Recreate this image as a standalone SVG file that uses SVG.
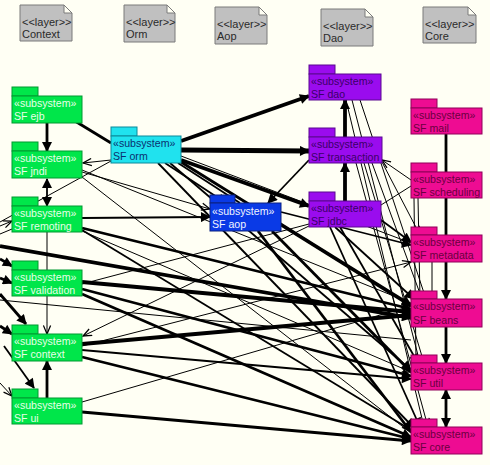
<svg xmlns="http://www.w3.org/2000/svg" width="490" height="465" viewBox="0 0 490 465">
<style>
text{font-family:"Liberation Sans",Arial,sans-serif;font-size:11px}
.pkg text{font-size:10.6px}
.note path{fill:#c0c0c0;stroke:#7a7a7a;stroke-width:1}
.note text{fill:#2a2a2a}
.pkg rect{stroke-width:1}
.g rect{fill:#00e64a;stroke:#009a30}.g text{fill:#e6ffe6}
.c rect{fill:#20e2ee;stroke:#0a8a9a}.c text{fill:#0a3070}
.b rect{fill:#0a3ae6;stroke:#0a2080}.b text{fill:#f0f4ff}
.p rect{fill:#9a0cee;stroke:#5a0890}.p text{fill:#3a0068}
.m rect{fill:#ee0c92;stroke:#900058}.m text{fill:#6a0040}
#edges line{stroke:#000;fill:none}
.w1{stroke-width:1}.w2{stroke-width:1.8}.w3{stroke-width:2.8}.w4{stroke-width:3.8}.w5{stroke-width:5}
.a{marker-end:url(#ah)}.v{marker-end:url(#av)}.d{marker-start:url(#ah);marker-end:url(#ah)}
</style>
<defs>
<marker id="ah" viewBox="0 0 10 10" refX="9" refY="5" markerWidth="11" markerHeight="10" markerUnits="userSpaceOnUse" orient="auto-start-reverse"><path d="M0,0 L10,5 L0,10 z" fill="#000"/></marker>
<marker id="av" viewBox="0 0 10 10" refX="9.5" refY="5" markerWidth="10" markerHeight="9" markerUnits="userSpaceOnUse" orient="auto"><path d="M0,1 L9.5,5 L0,9" fill="none" stroke="#000" stroke-width="1.4"/></marker>
</defs>
<rect width="490" height="465" fill="#fffff4"/>

<g id="layers">
<g id="layer-context" class="note"><path d="M20,5 H64 L72,13 V41 H20 Z M64,5 V13 H72"/><text x="22" y="26">&lt;&lt;layer&gt;&gt;</text><text x="22" y="38">Context</text></g>
<g id="layer-orm" class="note"><path d="M124,5 H167 L175,13 V42 H124 Z M167,5 V13 H175"/><text x="126" y="26">&lt;&lt;layer&gt;&gt;</text><text x="126" y="38">Orm</text></g>
<g id="layer-aop" class="note"><path d="M215,7 H259 L267,15 V44 H215 Z M259,7 V15 H267"/><text x="217" y="28">&lt;&lt;layer&gt;&gt;</text><text x="217" y="40">Aop</text></g>
<g id="layer-dao" class="note"><path d="M321,9 H365 L373,17 V46 H321 Z M365,9 V17 H373"/><text x="323" y="30">&lt;&lt;layer&gt;&gt;</text><text x="323" y="42">Dao</text></g>
<g id="layer-core" class="note"><path d="M423,7 H468 L476,15 V43 H423 Z M468,7 V15 H476"/><text x="425" y="28">&lt;&lt;layer&gt;&gt;</text><text x="425" y="40">Core</text></g>
</g>

<g id="edges">
<!-- offscreen sources at left -->
<line class="w1" x1="0" y1="222" x2="111" y2="161"/>
<line class="w1 v" x1="0" y1="226" x2="12" y2="221"/>
<line class="w1" x1="0" y1="234" x2="12" y2="229"/>
<line class="w4 a" x1="0" y1="246" x2="411" y2="318"/>
<line class="w3 a" x1="0" y1="259" x2="12" y2="266"/>
<line class="w3 a" x1="0" y1="278" x2="12" y2="283"/>
<line class="w3 a" x1="0" y1="294" x2="26" y2="324"/>
<line class="w3 a" x1="0" y1="326" x2="12" y2="334"/>
<line class="w2 a" x1="4" y1="346" x2="34" y2="388"/>
<line class="w1 v" x1="0" y1="383" x2="12" y2="396"/>
<line class="w1" x1="0" y1="300" x2="411" y2="340"/>
<!-- left column internal -->
<line class="w3 a" x1="47" y1="123" x2="47" y2="151"/>
<line class="w2 d" x1="47" y1="179" x2="47" y2="206"/>
<line class="w1 v" x1="47" y1="232" x2="47" y2="334"/>
<line class="w3 a" x1="47" y1="398" x2="47" y2="361"/>
<!-- orm -->
<line class="w3" x1="70" y1="118" x2="111" y2="143"/>
<line class="w1 v" x1="111" y1="160" x2="83" y2="163"/>
<line class="w4 a" x1="181" y1="141" x2="309" y2="96"/>
<line class="w5 a" x1="181" y1="150" x2="309" y2="151"/>
<line class="w4 a" x1="181" y1="160" x2="309" y2="206"/>
<line class="w2 a" x1="165" y1="163" x2="226" y2="203"/>
<line class="w2" x1="178" y1="163" x2="240" y2="203"/>
<line class="w3 a" x1="181" y1="162" x2="411" y2="305"/>
<line class="w2 a" x1="170" y1="163" x2="411" y2="370"/>
<line class="w2 a" x1="158" y1="163" x2="414" y2="428"/>
<line class="w1" x1="181" y1="156" x2="411" y2="243"/>
<!-- dao layer -->
<line class="w2 a" x1="309" y1="160" x2="268" y2="203"/>
<line class="w4 a" x1="345" y1="201" x2="345" y2="163"/>
<line class="w4 a" x1="345" y1="137" x2="345" y2="100"/>
<line class="w1 v" x1="411" y1="180" x2="382" y2="160"/>
<line class="w1" x1="360" y1="100" x2="426" y2="299"/>
<line class="w1" x1="352" y1="100" x2="420" y2="363"/>
<line class="w1" x1="346" y1="100" x2="424" y2="427"/>
<line class="w1" x1="372" y1="163" x2="422" y2="299"/>
<line class="w1" x1="364" y1="163" x2="424" y2="363"/>
<line class="w1 v" x1="356" y1="163" x2="428" y2="427"/>
<line class="w1 v" x1="382" y1="162" x2="420" y2="235"/>
<line class="w1" x1="381" y1="205" x2="411" y2="186"/>
<line class="w2 a" x1="381" y1="220" x2="411" y2="242"/>
<line class="w2 a" x1="335" y1="227" x2="414" y2="299"/>
<line class="w2 a" x1="340" y1="227" x2="418" y2="363"/>
<line class="w2 a" x1="330" y1="227" x2="420" y2="427"/>
<line class="w1 v" x1="309" y1="226" x2="83" y2="336"/>
<!-- aop -->
<line class="w2 a" x1="82" y1="218" x2="210" y2="217"/>
<line class="w1 v" x1="82" y1="172" x2="210" y2="209"/>
<line class="w2 a" x1="281" y1="212" x2="411" y2="245"/>
<line class="w3 a" x1="281" y1="225" x2="411" y2="306"/>
<line class="w3 a" x1="272" y1="231" x2="411" y2="372"/>
<line class="w3 a" x1="258" y1="231" x2="411" y2="432"/>
<!-- left nodes to core -->
<line class="w1" x1="82" y1="170" x2="411" y2="303"/>
<line class="w1" x1="82" y1="177" x2="411" y2="433"/>
<line class="w3 a" x1="82" y1="228" x2="411" y2="309"/>
<line class="w1 v" x1="82" y1="231" x2="411" y2="372"/>
<line class="w2" x1="82" y1="230" x2="411" y2="430"/>
<line class="w4 a" x1="82" y1="282" x2="411" y2="312"/>
<line class="w3 a" x1="82" y1="289" x2="411" y2="376"/>
<line class="w3 a" x1="82" y1="294" x2="411" y2="437"/>
<line class="w1" x1="82" y1="284" x2="309" y2="224"/>
<line class="w4 a" x1="82" y1="344" x2="411" y2="315"/>
<line class="w2 a" x1="82" y1="350" x2="411" y2="379"/>
<line class="w3 a" x1="82" y1="357" x2="411" y2="439"/>
<line class="w1 v" x1="82" y1="346" x2="411" y2="262"/>
<line class="w1" x1="82" y1="402" x2="411" y2="306"/>
<line class="w3 a" x1="82" y1="412" x2="411" y2="441"/>
<!-- core column -->
<line class="w3 a" x1="446" y1="134" x2="446" y2="299"/>
<line class="w1" x1="418" y1="198" x2="420" y2="299"/>
<line class="w1" x1="414" y1="198" x2="416" y2="363"/>
<line class="w1" x1="432" y1="262" x2="432" y2="299"/>
<line class="w3 a" x1="446" y1="327" x2="446" y2="363"/>
<line class="w3 d" x1="446" y1="390" x2="446" y2="427"/>
</g>

<g id="nodes">
<g id="sf-ejb" class="pkg g"><rect x="12" y="87" width="26" height="9"/><rect x="12" y="96" width="70" height="27"/><text x="14" y="107">«subsystem»</text><text x="14" y="120">SF ejb</text></g>
<g id="sf-jndi" class="pkg g"><rect x="12" y="142" width="26" height="9"/><rect x="12" y="151" width="70" height="27"/><text x="14" y="162">«subsystem»</text><text x="14" y="175">SF jndi</text></g>
<g id="sf-remoting" class="pkg g"><rect x="12" y="197" width="26" height="9"/><rect x="12" y="206" width="70" height="26"/><text x="14" y="217">«subsystem»</text><text x="14" y="230">SF remoting</text></g>
<g id="sf-validation" class="pkg g"><rect x="12" y="261" width="26" height="9"/><rect x="12" y="270" width="70" height="26"/><text x="14" y="281">«subsystem»</text><text x="14" y="294">SF validation</text></g>
<g id="sf-context" class="pkg g"><rect x="12" y="325" width="26" height="9"/><rect x="12" y="334" width="70" height="27"/><text x="14" y="345">«subsystem»</text><text x="14" y="358">SF context</text></g>
<g id="sf-ui" class="pkg g"><rect x="12" y="389" width="26" height="9"/><rect x="12" y="398" width="70" height="26"/><text x="14" y="409">«subsystem»</text><text x="14" y="422">SF ui</text></g>
<g id="sf-orm" class="pkg c"><rect x="111" y="127" width="26" height="9"/><rect x="111" y="136" width="70" height="27"/><text x="113" y="147">«subsystem»</text><text x="113" y="160">SF orm</text></g>
<g id="sf-aop" class="pkg b"><rect x="210" y="195" width="25" height="8"/><rect x="210" y="203" width="71" height="28"/><text x="212" y="215">«subsystem»</text><text x="212" y="228">SF aop</text></g>
<g id="sf-dao" class="pkg p"><rect x="309" y="65" width="26" height="9"/><rect x="309" y="74" width="72" height="26"/><text x="311" y="85">«subsystem»</text><text x="311" y="98">SF dao</text></g>
<g id="sf-transaction" class="pkg p"><rect x="309" y="128" width="26" height="9"/><rect x="309" y="137" width="73" height="26"/><text x="311" y="148">«subsystem»</text><text x="311" y="161">SF transaction</text></g>
<g id="sf-jdbc" class="pkg p"><rect x="309" y="192" width="26" height="9"/><rect x="309" y="201" width="72" height="26"/><text x="311" y="212">«subsystem»</text><text x="311" y="225">SF jdbc</text></g>
<g id="sf-mail" class="pkg m"><rect x="411" y="99" width="26" height="9"/><rect x="411" y="108" width="71" height="26"/><text x="413" y="119">«subsystem»</text><text x="413" y="132">SF mail</text></g>
<g id="sf-scheduling" class="pkg m"><rect x="411" y="163" width="26" height="9"/><rect x="411" y="172" width="71" height="26"/><text x="413" y="183">«subsystem»</text><text x="413" y="196">SF scheduling</text></g>
<g id="sf-metadata" class="pkg m"><rect x="411" y="227" width="26" height="8"/><rect x="411" y="235" width="71" height="27"/><text x="413" y="246">«subsystem»</text><text x="413" y="259">SF metadata</text></g>
<g id="sf-beans" class="pkg m"><rect x="411" y="291" width="26" height="8"/><rect x="411" y="299" width="71" height="28"/><text x="413" y="310">«subsystem»</text><text x="413" y="324">SF beans</text></g>
<g id="sf-util" class="pkg m"><rect x="411" y="355" width="26" height="8"/><rect x="411" y="363" width="71" height="27"/><text x="413" y="374">«subsystem»</text><text x="413" y="387">SF util</text></g>
<g id="sf-core" class="pkg m"><rect x="411" y="419" width="26" height="8"/><rect x="411" y="427" width="71" height="27"/><text x="413" y="438">«subsystem»</text><text x="413" y="451">SF core</text></g>
</g>
</svg>
